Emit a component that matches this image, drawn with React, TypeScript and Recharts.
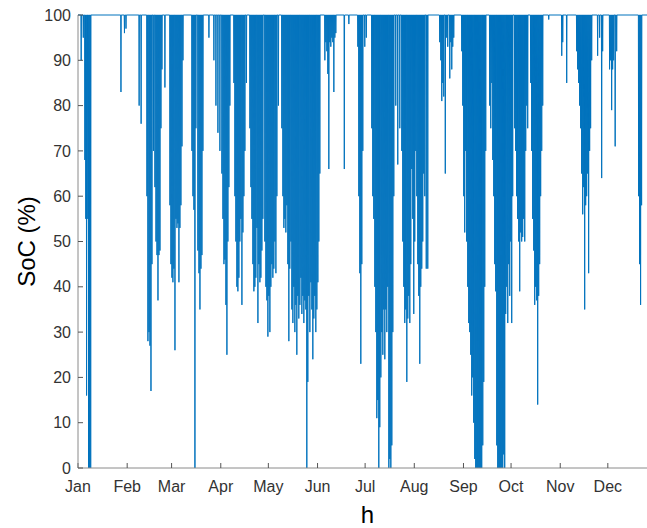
import { LineChart, Line, XAxis, YAxis } from 'recharts'

const monthLabels = ['Jan', 'Feb', 'Mar', 'Apr', 'May', 'Jun', 'Jul', 'Aug', 'Sep', 'Oct', 'Nov', 'Dec']
const monthStartHours = [0, 744, 1416, 2160, 2880, 3624, 4344, 5088, 5832, 6552, 7296, 8016]
const socTicks = [0, 10, 20, 30, 40, 50, 60, 70, 80, 90, 100]
const HOURS_IN_YEAR = 8760

// discharge events: [hour of the minimum, lowest SoC in %]
const janDips = [
  [48, 90], [80, 95], [104, 68], [118, 55], [130, 16], [148, 55], [160, 0], [176, 0], [192, 0],
  [650, 83], [703, 96], [726, 97],
]
const febDips = [
  [925, 80], [955, 76], [1043, 60], [1058, 28], [1074, 30], [1089, 27], [1104, 17], [1119, 45],
  [1141, 70], [1164, 62], [1180, 50], [1195, 47], [1210, 37], [1225, 47], [1240, 48], [1255, 75],
  [1270, 88], [1315, 84], [1391, 58], [1406, 45],
]
const marDips = [
  [1421, 42], [1436, 41], [1451, 44], [1467, 26], [1482, 55], [1497, 53], [1512, 54], [1527, 41],
  [1542, 53], [1557, 58], [1573, 71], [1588, 90], [1724, 70], [1739, 60], [1754, 57], [1769, 0],
  [1784, 75], [1814, 48], [1830, 43], [1845, 35], [1860, 44], [1875, 47], [1890, 70], [1981, 95],
  [2056, 90], [2087, 80], [2117, 74], [2147, 70],
]
const aprDips = [
  [2177, 65], [2193, 55], [2208, 45], [2223, 46], [2238, 36], [2253, 25], [2268, 50], [2283, 62],
  [2298, 80], [2359, 85], [2374, 60], [2389, 50], [2404, 40], [2419, 39], [2434, 42], [2449, 50],
  [2464, 55], [2480, 36], [2495, 52], [2510, 60], [2525, 70], [2548, 85], [2601, 75], [2616, 62],
  [2631, 55], [2646, 45], [2661, 39], [2676, 40], [2691, 42], [2707, 53], [2722, 32], [2737, 45],
  [2752, 41], [2767, 42], [2782, 48], [2797, 55], [2827, 50], [2843, 40], [2858, 37], [2873, 29],
]
const mayDips = [
  [2888, 38], [2903, 30], [2918, 40], [2933, 45], [2948, 42], [2963, 44], [2979, 50], [2994, 43],
  [3009, 60], [3032, 80], [3084, 75], [3100, 60], [3115, 53], [3130, 55], [3145, 52], [3160, 58],
  [3175, 45], [3190, 28], [3205, 44], [3221, 50], [3236, 35], [3251, 32], [3266, 40], [3281, 30],
  [3296, 36], [3311, 25], [3326, 38], [3341, 33], [3357, 36], [3372, 42], [3387, 34], [3402, 38],
  [3417, 32], [3432, 37], [3447, 35], [3462, 0], [3477, 19], [3492, 38], [3508, 30], [3523, 41],
  [3538, 35], [3553, 24], [3568, 33], [3583, 38], [3598, 30], [3614, 35],
]
const junDips = [
  [3629, 41], [3644, 50], [3659, 65], [3735, 90], [3750, 94], [3765, 92], [3780, 87], [3795, 66],
  [3810, 94], [3825, 93], [3840, 95], [3855, 94], [3871, 83], [3886, 95], [3901, 96], [4029, 66],
  [4098, 98], [4234, 93], [4249, 60], [4264, 43], [4279, 23], [4294, 45], [4309, 70], [4339, 93],
]
const julDips = [
  [4362, 95], [4445, 75], [4460, 60], [4475, 55], [4491, 40], [4506, 30], [4521, 11], [4536, 15],
  [4551, 0], [4566, 9], [4582, 20], [4597, 30], [4612, 25], [4627, 35], [4642, 24], [4657, 35],
  [4672, 30], [4687, 40], [4703, 0], [4718, 2], [4733, 0], [4748, 5], [4763, 30], [4778, 60],
  [4808, 80], [4838, 67], [4869, 75], [4899, 70], [4914, 50], [4929, 40], [4944, 32], [4959, 35],
  [4975, 19], [4990, 33], [5005, 38], [5020, 32], [5035, 45], [5050, 66], [5065, 55], [5080, 34],
]
const augDips = [
  [5095, 50], [5110, 70], [5126, 60], [5141, 45], [5156, 38], [5171, 23], [5186, 40], [5201, 44],
  [5216, 50], [5231, 65], [5247, 60], [5269, 44], [5292, 44], [5473, 94], [5489, 90], [5504, 81],
  [5519, 85], [5534, 82], [5557, 65], [5579, 95], [5594, 93], [5625, 86], [5640, 94], [5655, 88],
  [5670, 93], [5685, 95], [5806, 92], [5821, 80],
]
const sepDips = [
  [5836, 60], [5851, 52], [5866, 70], [5881, 50], [5897, 40], [5912, 32], [5927, 30], [5942, 25],
  [5957, 16], [5972, 20], [5987, 10], [6003, 2], [6018, 0], [6033, 0], [6048, 0], [6063, 0],
  [6078, 0], [6093, 0], [6108, 0], [6124, 5], [6139, 19], [6154, 40], [6169, 70], [6229, 80],
  [6245, 75], [6260, 85], [6275, 68], [6290, 60], [6305, 45], [6320, 39], [6336, 5], [6351, 0],
  [6366, 0], [6381, 0], [6396, 0], [6411, 0], [6426, 0], [6441, 3], [6456, 0], [6471, 34],
  [6487, 40], [6502, 32], [6517, 45], [6532, 38], [6547, 50],
]
const octDips = [
  [6562, 32], [6577, 60], [6607, 75], [6622, 70], [6637, 60], [6652, 55], [6668, 50], [6683, 39],
  [6698, 52], [6713, 50], [6728, 51], [6743, 55], [6759, 50], [6774, 70], [6789, 80], [6804, 75],
  [6849, 85], [6864, 70], [6879, 55], [6895, 48], [6910, 36], [6925, 40], [6940, 37], [6955, 14],
  [6970, 38], [6985, 45], [7000, 60], [7016, 70], [7031, 80], [7122, 99],
]
const novDips = [
  [7319, 91], [7334, 94], [7394, 85], [7545, 92], [7560, 88], [7575, 85], [7590, 80], [7605, 75],
  [7620, 65], [7636, 56], [7651, 62], [7666, 35], [7681, 58], [7696, 60], [7711, 65], [7726, 43],
  [7741, 70], [7756, 75], [7772, 90], [7862, 91], [7892, 95], [7923, 64], [7938, 92],
]
const decDips = [
  [8043, 88], [8058, 90], [8074, 79], [8089, 88], [8104, 90], [8127, 71], [8150, 92],
  [8482, 60], [8497, 45], [8512, 36], [8527, 58],
]

const FULL = 100
const RAMP = 4 // hours between full charge and the bottom of a dip

const allDips = [
  ...janDips, ...febDips, ...marDips, ...aprDips, ...mayDips, ...junDips,
  ...julDips, ...augDips, ...sepDips, ...octDips, ...novDips, ...decDips,
].sort((a, b) => a[0] - b[0])

const series: { h: number; soc: number }[] = [{ h: 0, soc: FULL }]
for (const [h, low] of allDips) {
  series.push({ h: h - RAMP, soc: FULL }, { h, soc: low }, { h: h + RAMP, soc: FULL })
}
series.push({ h: HOURS_IN_YEAR, soc: FULL })

const FONT = "'Liberation Sans', Arial, Helvetica, sans-serif"

function YTitle({ viewBox }: any) {
  const x = 26
  const y = viewBox.y + viewBox.height / 2
  return (
    <text x={x} y={y} transform={`rotate(-90 ${x} ${y})`} textAnchor="middle" dominantBaseline="central"
      fontFamily={FONT} fontSize={24} fill="#000">
      SoC (%)
    </text>
  )
}

function XTitle({ viewBox }: any) {
  const x = viewBox.x + viewBox.width / 2
  return (
    <text x={x} y={viewBox.y + 55} textAnchor="middle" fontFamily={FONT} fontSize={24} fill="#000">
      h
    </text>
  )
}

export default function App() {
  return (
    <div style={{ position: 'fixed', left: 0, top: 0, width: 647, height: 528, overflow: 'hidden', background: '#fff' }}>
      <LineChart width={680} height={528} data={series} margin={{ top: 15, right: 23, bottom: 0, left: 30 }}>
        <XAxis
          dataKey="h"
          type="number"
          domain={[0, HOURS_IN_YEAR]}
          ticks={monthStartHours}
          tickFormatter={(v: number) => monthLabels[monthStartHours.indexOf(v)]}
          interval={0}
          height={60}
          tickSize={-5}
          tickMargin={18}
          axisLine={{ stroke: '#8a8a8a' }}
          tickLine={{ stroke: '#555' }}
          tick={{ fill: '#333', fontSize: 16, fontFamily: FONT }}
          label={<XTitle />}
        />
        <XAxis
          xAxisId="top"
          orientation="top"
          dataKey="h"
          type="number"
          domain={[0, HOURS_IN_YEAR]}
          ticks={monthStartHours}
          height={0}
          tickSize={-5}
          tick={false}
          axisLine={{ stroke: '#8a8a8a' }}
          tickLine={{ stroke: '#777' }}
        />
        <YAxis
          type="number"
          domain={[0, 100]}
          ticks={socTicks}
          interval={0}
          width={48}
          tickSize={-5}
          tickMargin={12}
          axisLine={{ stroke: '#8a8a8a' }}
          tickLine={{ stroke: '#555' }}
          tick={{ fill: '#333', fontSize: 16, fontFamily: FONT }}
          label={<YTitle />}
        />
        <Line
          type="linear"
          dataKey="soc"
          stroke="#0072BD"
          strokeWidth={1}
          dot={false}
          isAnimationActive={false}
        />
      </LineChart>
    </div>
  )
}
